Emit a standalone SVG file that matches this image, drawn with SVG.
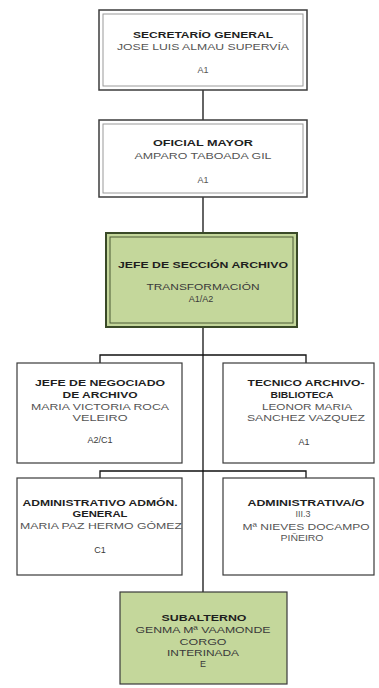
<svg xmlns="http://www.w3.org/2000/svg" width="379" height="688" viewBox="0 0 379 688">
<style>
.t{font-family:"Liberation Sans",Arial,sans-serif;font-size:9px;text-anchor:middle;fill:#3a3a3a}
.b{font-weight:bold;fill:#1e1e1e}
.n{fill:#555}
.outer{fill:#fff;stroke:#3c3c3c;stroke-width:1.5}
.inner{fill:none;stroke:#9a9a9a;stroke-width:1}
.gout{fill:#c4d79b;stroke:#3a4a28;stroke-width:2}
.gin{fill:none;stroke:#4a5a35;stroke-width:1}
.box{fill:#fff;stroke:#3a3a3a;stroke-width:1.2}
.gbox{fill:#c4d79b;stroke:#3a3a3a;stroke-width:1.2}
.c{fill:none;stroke:#111;stroke-width:1.3}
</style>
<g id="connectors">
<line class="c" x1="203" y1="90" x2="203" y2="120"/>
<line class="c" x1="203" y1="197" x2="203" y2="233"/>
<line class="c" x1="203" y1="327" x2="203" y2="592"/>
<polyline class="c" points="100,363 100,355 306,355 306,363"/>
<polyline class="c" points="100,478 100,471 306,471 306,478"/>
</g>
<g id="n1">
<rect class="outer" x="99" y="10" width="208" height="80"/>
<rect class="inner" x="103" y="14" width="200" height="72"/>
<text class="t b" x="203" y="38" textLength="140" lengthAdjust="spacingAndGlyphs">SECRETARÍO GENERAL</text>
<text class="t n" x="203" y="50" textLength="172" lengthAdjust="spacingAndGlyphs">JOSE LUIS ALMAU SUPERVÍA</text>
<text class="t n" x="203" y="73">A1</text>
</g>
<g id="n2">
<rect class="outer" x="99" y="120" width="208" height="77"/>
<rect class="inner" x="103" y="124" width="200" height="69"/>
<text class="t b" x="203" y="146" textLength="100" lengthAdjust="spacingAndGlyphs">OFICIAL MAYOR</text>
<text class="t n" x="203" y="159" textLength="137" lengthAdjust="spacingAndGlyphs">AMPARO TABOADA GIL</text>
<text class="t n" x="203" y="183">A1</text>
</g>
<g id="n3">
<rect class="gout" x="106" y="233" width="191" height="94"/>
<rect class="gin" x="110" y="237" width="183" height="86"/>
<text class="t b" x="203" y="268" textLength="170" lengthAdjust="spacingAndGlyphs">JEFE DE SECCIÓN ARCHIVO</text>
<text class="t" x="203" y="290" textLength="113" lengthAdjust="spacingAndGlyphs">TRANSFORMACIÓN</text>
<text class="t" x="201" y="302">A1/A2</text>
</g>
<g id="n4">
<rect class="box" x="17" y="363" width="165" height="100"/>
<text class="t b" x="100" y="386" textLength="130" lengthAdjust="spacingAndGlyphs">JEFE DE NEGOCIADO</text>
<text class="t b" x="100" y="398" textLength="75" lengthAdjust="spacingAndGlyphs">DE ARCHIVO</text>
<text class="t n" x="100" y="410" textLength="138" lengthAdjust="spacingAndGlyphs">MARIA VICTORIA ROCA</text>
<text class="t n" x="100" y="421" textLength="55" lengthAdjust="spacingAndGlyphs">VELEIRO</text>
<text class="t" x="100" y="443">A2/C1</text>
</g>
<g id="n5">
<rect class="box" x="223" y="363" width="151" height="100"/>
<text class="t b" x="306" y="386" textLength="117" lengthAdjust="spacingAndGlyphs">TECNICO ARCHIVO-</text>
<text class="t b" x="302" y="398" textLength="63" lengthAdjust="spacingAndGlyphs">BIBLIOTECA</text>
<text class="t n" x="307" y="410" textLength="90" lengthAdjust="spacingAndGlyphs">LEONOR MARIA</text>
<text class="t n" x="306" y="421" textLength="118" lengthAdjust="spacingAndGlyphs">SANCHEZ VAZQUEZ</text>
<text class="t" x="304" y="445">A1</text>
</g>
<g id="n6">
<rect class="box" x="17" y="478" width="165" height="97"/>
<text class="t b" x="100" y="506" textLength="155" lengthAdjust="spacingAndGlyphs">ADMINISTRATIVO ADMÓN.</text>
<text class="t b" x="100" y="517" textLength="55" lengthAdjust="spacingAndGlyphs">GENERAL</text>
<text class="t n" x="101" y="529" textLength="162" lengthAdjust="spacingAndGlyphs">MARIA PAZ HERMO GÓMEZ</text>
<text class="t" x="100" y="553">C1</text>
</g>
<g id="n7">
<rect class="box" x="223" y="478" width="151" height="97"/>
<text class="t b" x="306" y="506" textLength="117" lengthAdjust="spacingAndGlyphs">ADMINISTRATIVA/O</text>
<text class="t n" x="303" y="517">III.3</text>
<text class="t n" x="306" y="530" textLength="127" lengthAdjust="spacingAndGlyphs">Mª NIEVES DOCAMPO</text>
<text class="t n" x="302" y="541" textLength="43" lengthAdjust="spacingAndGlyphs">PIÑEIRO</text>
</g>
<g id="n8">
<rect class="gbox" x="120" y="592" width="167" height="92"/>
<text class="t b" x="204" y="621" textLength="85" lengthAdjust="spacingAndGlyphs">SUBALTERNO</text>
<text class="t" x="203" y="633" textLength="135" lengthAdjust="spacingAndGlyphs">GENMA Mª VAAMONDE</text>
<text class="t" x="203" y="645" textLength="47" lengthAdjust="spacingAndGlyphs">CORGO</text>
<text class="t" x="203" y="656" textLength="72" lengthAdjust="spacingAndGlyphs">INTERINADA</text>
<text class="t" x="203" y="667">E</text>
</g>
</svg>
